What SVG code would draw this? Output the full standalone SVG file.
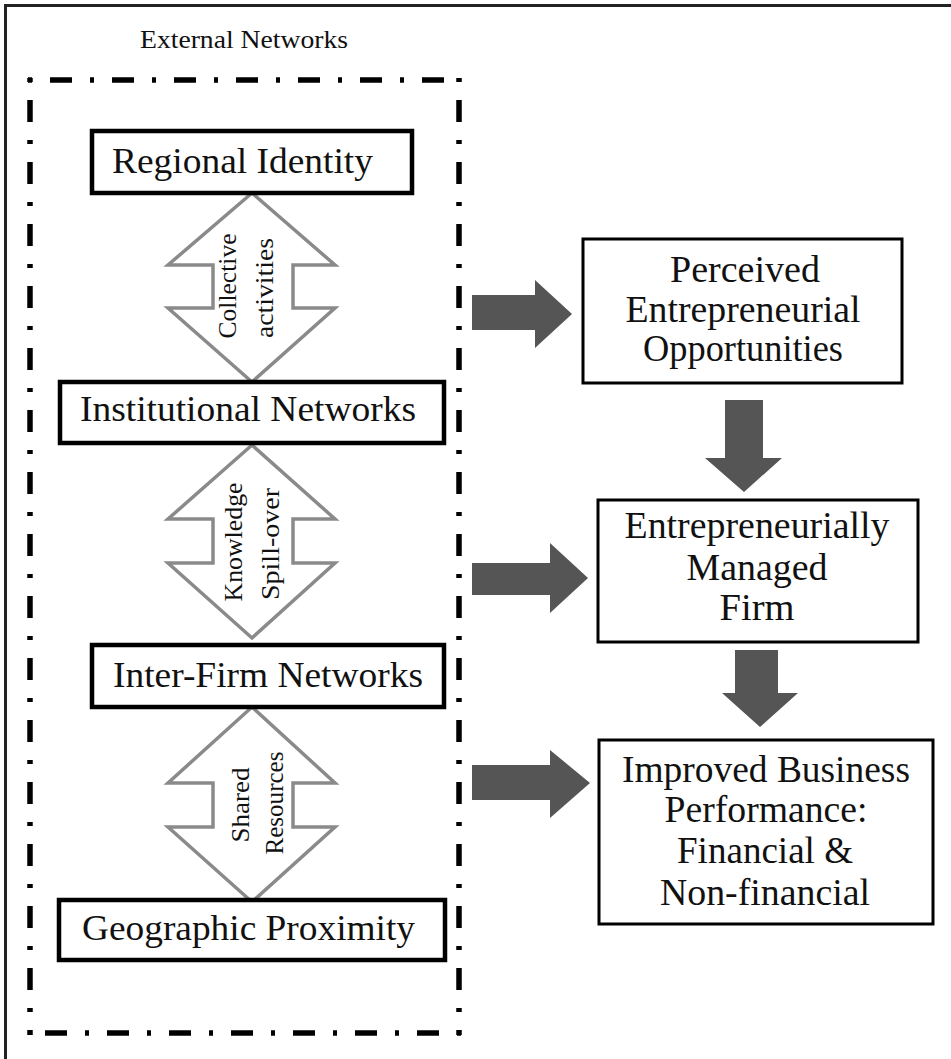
<svg xmlns="http://www.w3.org/2000/svg" width="951" height="1059" viewBox="0 0 951 1059">
<style>
text{font-family:"Liberation Serif","Times New Roman",serif;fill:#111;}
.lbl{font-size:35px;}
.rl{font-size:37px;text-anchor:middle;}
.rot{font-size:25px;text-anchor:middle;}
.lbox{fill:#fff;stroke:#000;stroke-width:4.5;}
.rbox{fill:#fff;stroke:#000;stroke-width:3;}
.dbl{fill:#fff;stroke:#8a8a8a;stroke-width:3.5;stroke-linejoin:miter;}
.blk{fill:#555;stroke:none;}
.dd{fill:none;stroke:#000;stroke-width:5.5;stroke-dasharray:4 18 22 18;}
</style>
<rect x="0" y="0" width="951" height="1059" fill="#fff"/>
<rect id="frame" x="5.5" y="5.5" width="948" height="1058" fill="none" stroke="#222" stroke-width="3"/>
<text x="140" y="48" font-size="26" textLength="208" lengthAdjust="spacingAndGlyphs">External Networks</text>
<g id="external-networks">
  <line class="dd" x1="28" y1="80" x2="461" y2="80"/>
  <line class="dd" x1="459" y1="78" x2="459" y2="1035"/>
  <line class="dd" x1="30" y1="78" x2="30" y2="1035"/>
  <line class="dd" x1="461" y1="1033" x2="28" y2="1033"/>
</g>

<g id="connectors">
  <g id="link-collective">
    <path class="dbl" d="M252,193 L335,265 L293,265 L293,308 L335,308 L252,382 L168,308 L213,308 L213,265 L168,265 Z"/>
    <text class="rot" transform="translate(236,286) rotate(-90)" textLength="105" lengthAdjust="spacingAndGlyphs">Collective</text>
    <text class="rot" transform="translate(273,288) rotate(-90)" textLength="100" lengthAdjust="spacingAndGlyphs">activities</text>
  </g>
  <g id="link-knowledge">
    <path class="dbl" d="M252,445 L335,519 L293,519 L293,563 L335,563 L252,638 L168,563 L213,563 L213,519 L168,519 Z"/>
    <text class="rot" transform="translate(242,542) rotate(-90)" textLength="119" lengthAdjust="spacingAndGlyphs">Knowledge</text>
    <text class="rot" transform="translate(279,544) rotate(-90)" textLength="112" lengthAdjust="spacingAndGlyphs">Spill-over</text>
  </g>
  <g id="link-shared">
    <path class="dbl" d="M252,707 L335,783 L293,783 L293,827 L335,827 L252,902 L168,827 L213,827 L213,783 L168,783 Z"/>
    <text class="rot" transform="translate(249,805) rotate(-90)" textLength="75" lengthAdjust="spacingAndGlyphs">Shared</text>
    <text class="rot" transform="translate(283,803) rotate(-90)" textLength="103" lengthAdjust="spacingAndGlyphs">Resources</text>
  </g>
  <path id="arrow-to-perceived" class="blk" d="M472,295 L535,295 L535,280 L572,314 L535,348 L535,330 L472,330 Z"/>
  <path id="arrow-to-firm" class="blk" d="M472,563 L550,563 L550,543 L588,578 L550,613 L550,595 L472,595 Z"/>
  <path id="arrow-to-performance" class="blk" d="M472,765 L550,765 L550,750 L590,783 L550,818 L550,800 L472,800 Z"/>
  <path id="arrow-perceived-firm" class="blk" d="M725,400 L763,400 L763,458 L782,458 L744,492 L705,458 L725,458 Z"/>
  <path id="arrow-firm-performance" class="blk" d="M735,650 L778,650 L778,693 L798,693 L760,727 L722,693 L735,693 Z"/>
</g>

<g id="regional-identity">
  <rect class="lbox" x="92" y="131" width="320" height="62"/>
  <text class="lbl" x="112" y="173" textLength="261" lengthAdjust="spacingAndGlyphs">Regional Identity</text>
</g>
<g id="institutional-networks">
  <rect class="lbox" x="60" y="382" width="384" height="61"/>
  <text class="lbl" x="80" y="421" textLength="336" lengthAdjust="spacingAndGlyphs">Institutional Networks</text>
</g>
<g id="inter-firm-networks">
  <rect class="lbox" x="92" y="645" width="352" height="62"/>
  <text class="lbl" x="113" y="687" textLength="310" lengthAdjust="spacingAndGlyphs">Inter-Firm Networks</text>
</g>
<g id="geographic-proximity">
  <rect class="lbox" x="59" y="900" width="386" height="60"/>
  <text class="lbl" x="82" y="940" textLength="333" lengthAdjust="spacingAndGlyphs">Geographic Proximity</text>
</g>

<g id="perceived-opportunities">
  <rect class="rbox" x="583" y="239" width="319" height="144"/>
  <text class="rl" x="745" y="282" textLength="150" lengthAdjust="spacingAndGlyphs">Perceived</text>
  <text class="rl" x="743" y="322" textLength="235" lengthAdjust="spacingAndGlyphs">Entrepreneurial</text>
  <text class="rl" x="743" y="361" textLength="200" lengthAdjust="spacingAndGlyphs">Opportunities</text>
</g>
<g id="entrepreneurially-managed-firm">
  <rect class="rbox" x="598" y="500" width="320" height="142"/>
  <text class="rl" x="757" y="538" textLength="265" lengthAdjust="spacingAndGlyphs">Entrepreneurially</text>
  <text class="rl" x="757" y="580" textLength="141" lengthAdjust="spacingAndGlyphs">Managed</text>
  <text class="rl" x="757" y="620" textLength="75" lengthAdjust="spacingAndGlyphs">Firm</text>
</g>
<g id="improved-business-performance">
  <rect class="rbox" x="599" y="740" width="334" height="184"/>
  <text class="rl" x="766" y="782" textLength="288" lengthAdjust="spacingAndGlyphs">Improved Business</text>
  <text class="rl" x="766" y="822" textLength="203" lengthAdjust="spacingAndGlyphs">Performance:</text>
  <text class="rl" x="765" y="863" textLength="176" lengthAdjust="spacingAndGlyphs">Financial &amp;</text>
  <text class="rl" x="765" y="905" textLength="210" lengthAdjust="spacingAndGlyphs">Non-financial</text>
</g>
</svg>
